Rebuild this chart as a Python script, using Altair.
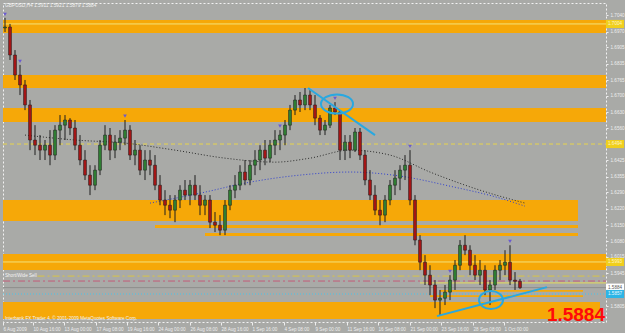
import json
import altair as alt
import pandas as pd

# ---------------- data ----------------
opens = [1.6987,1.6991,1.6872,1.6787,1.6745,1.6660,1.6511,1.6489,1.6468,1.6489,
         1.6447,1.6553,1.6574,1.6596,1.6562,1.6489,1.6426,1.6362,1.6319,1.6383,
         1.6489,1.6532,1.6468,1.6502,1.6519,1.6553,1.6447,1.6468,1.6383,1.6426,
         1.6404,1.6319,1.6256,1.6234,1.6213,1.6256,1.6298,1.6277,1.6319,1.6277,
         1.6234,1.6256,1.6162,1.6149,1.6128,1.6234,1.6298,1.6319,1.6375,1.6341,
         1.6404,1.6426,1.6468,1.6434,1.6489,1.6511,1.6532,1.6574,1.6638,1.6681,
         1.6660,1.6702,1.6660,1.6604,1.6553,1.6574,1.6647,1.6630,1.6468,1.6502,
         1.6468,1.6545,1.6447,1.6341,1.6277,1.6213,1.6192,1.6256,1.6319,1.6349,
         1.6383,1.6404,1.6256,1.6086,1.5992,1.5937,1.5895,1.5831,1.5839,1.5865,
         1.5916,1.5979,1.6064,1.6043,1.5979,1.5937,1.5958,1.5874,1.5895,1.5958,
         1.5979,1.5992,1.5916,1.5911]
highs = [1.7030,1.7004,1.6893,1.6830,1.6766,1.6681,1.6574,1.6532,1.6511,1.6553,
         1.6574,1.6617,1.6617,1.6604,1.6596,1.6532,1.6468,1.6404,1.6404,1.6511,
         1.6574,1.6562,1.6532,1.6553,1.6596,1.6574,1.6511,1.6489,1.6468,1.6468,
         1.6447,1.6362,1.6298,1.6277,1.6277,1.6319,1.6341,1.6341,1.6362,1.6319,
         1.6277,1.6277,1.6205,1.6192,1.6256,1.6319,1.6362,1.6404,1.6426,1.6426,
         1.6468,1.6489,1.6511,1.6511,1.6553,1.6553,1.6596,1.6660,1.6702,1.6715,
         1.6732,1.6723,1.6702,1.6617,1.6596,1.6660,1.6672,1.6638,1.6532,1.6532,
         1.6562,1.6562,1.6468,1.6383,1.6319,1.6256,1.6277,1.6341,1.6383,1.6404,
         1.6447,1.6468,1.6277,1.6107,1.6022,1.5979,1.5916,1.5874,1.5895,1.5937,
         1.6001,1.6086,1.6107,1.6064,1.6022,1.6001,1.5979,1.5916,1.5979,1.6001,
         1.6043,1.6064,1.5950,1.5921]
lows = [1.6970,1.6851,1.6766,1.6702,1.6638,1.6468,1.6447,1.6426,1.6426,1.6404,
        1.6426,1.6489,1.6511,1.6532,1.6468,1.6404,1.6341,1.6277,1.6298,1.6362,
        1.6468,1.6426,1.6434,1.6468,1.6489,1.6426,1.6404,1.6362,1.6341,1.6362,
        1.6298,1.6234,1.6192,1.6179,1.6162,1.6222,1.6256,1.6234,1.6256,1.6192,
        1.6192,1.6137,1.6120,1.6107,1.6107,1.6213,1.6264,1.6298,1.6319,1.6319,
        1.6362,1.6383,1.6404,1.6417,1.6447,1.6468,1.6489,1.6553,1.6617,1.6630,
        1.6638,1.6638,1.6574,1.6532,1.6532,1.6562,1.6617,1.6426,1.6426,1.6434,
        1.6460,1.6426,1.6319,1.6256,1.6192,1.6149,1.6162,1.6234,1.6277,1.6298,
        1.6341,1.6234,1.6064,1.5958,1.5895,1.5852,1.5797,1.5767,1.5810,1.5831,
        1.5874,1.5958,1.6022,1.5937,1.5916,1.5895,1.5852,1.5810,1.5874,1.5916,
        1.5937,1.5895,1.5874,1.5879]
closes = [1.6991,1.6872,1.6787,1.6745,1.6660,1.6511,1.6489,1.6468,1.6489,1.6447,
          1.6553,1.6574,1.6596,1.6562,1.6489,1.6426,1.6362,1.6319,1.6383,1.6489,
          1.6532,1.6468,1.6502,1.6519,1.6553,1.6447,1.6468,1.6383,1.6426,1.6404,
          1.6319,1.6256,1.6234,1.6213,1.6256,1.6298,1.6277,1.6319,1.6277,1.6234,
          1.6256,1.6162,1.6149,1.6128,1.6234,1.6298,1.6319,1.6375,1.6341,1.6404,
          1.6426,1.6468,1.6434,1.6489,1.6511,1.6532,1.6574,1.6638,1.6681,1.6660,
          1.6702,1.6660,1.6604,1.6553,1.6574,1.6647,1.6630,1.6468,1.6502,1.6468,
          1.6545,1.6447,1.6341,1.6277,1.6213,1.6192,1.6256,1.6319,1.6349,1.6383,
          1.6404,1.6256,1.6086,1.5992,1.5937,1.5895,1.5831,1.5839,1.5865,1.5916,
          1.5979,1.6064,1.6043,1.5979,1.5937,1.5958,1.5874,1.5895,1.5958,1.5979,
          1.5992,1.5916,1.5911,1.5884]

x_tick_pos = [-0.4, 5.6, 11.8, 18.2, 24.4, 30.6, 37.0, 43.2, 49.4, 55.8,
              62.0, 68.4, 74.6, 81.0, 87.2, 93.6, 99.8]
x_tick_labels = ["6 Aug 2009", "10 Aug 16:00", "13 Aug 00:00", "17 Aug 08:00",
                 "19 Aug 16:00", "24 Aug 00:00", "26 Aug 08:00", "28 Aug 16:00",
                 "1 Sep 16:00", "4 Sep 08:00", "9 Sep 00:00", "11 Sep 16:00",
                 "16 Sep 08:00", "21 Sep 00:00", "23 Sep 16:00", "28 Sep 08:00",
                 "1 Oct 00:00"]
y_tick_vals = [1.7040, 1.6970, 1.6905, 1.6835, 1.6765, 1.6700, 1.6630, 1.6560,
               1.6425, 1.6355, 1.6290, 1.6220, 1.6150, 1.6080, 1.6015,
               1.5945, 1.5805]

# orange supply / demand zones
zone_x0 = [-0.4, -0.4, -0.4, -0.4, 30, 40, -0.4, -0.4, 85, 87]
zone_x1 = [120.2, 120.2, 120.2, 114.6, 114.6, 114.6, 120.2, 119.0, 115.6, 115.6]
zone_top = [1.7021, 1.6787, 1.6647, 1.6256, 1.6150, 1.6116, 1.6027, 1.5823, 1.5852, 1.5874]
zone_bot = [1.6966, 1.6732, 1.6587, 1.6167, 1.6137, 1.6103, 1.5959, 1.5751, 1.5844, 1.5866]

# horizontal levels
lvl_solid_yellow = [1.7004, 1.5993]
lvl_dash_yellow = [1.6494]
lvl_gold_dashdot = [1.5933]
lvl_red_dashdot = [1.5912]
lvl_bid = [1.5884]
lvl_cyan_dot = [1.5857]
lvl_fib_yellow = [1.5904]

# moving averages
ma_slow_i = [4, 14, 24, 34, 44, 54, 61, 69, 77, 85, 95, 104]
ma_slow_p = [1.6532, 1.6511, 1.6498, 1.6468, 1.6434, 1.6417, 1.6434, 1.6468,
             1.6447, 1.6375, 1.6298, 1.6243]
ma_fast_i = [29, 39, 49, 59, 69, 79, 89, 99, 104]
ma_fast_p = [1.6243, 1.6285, 1.6332, 1.6362, 1.6375, 1.6358, 1.6315, 1.6264, 1.6230]

# trend lines and ellipses
tl_id = ["a", "a", "b", "b"]
tl_i = [60.6, 74.0, 86.4, 108.4]
tl_p = [1.6732, 1.6532, 1.5763, 1.5886]
ell1_i, ell1_p = [66.4], [1.6664]
ell2_i, ell2_p = [97.2], [1.5831]

# fractal markers
frac_i = [0, 3, 24, 55, 66, 81, 89, 101]
frac_p = [1.7045, 1.6845, 1.6612, 1.6570, 1.6688, 1.6484, 1.5953, 1.6080]

# price-axis highlight boxes
hl_p = [1.7004, 1.6494, 1.5993, 1.5884, 1.5857]
hl_text = ["1.7004", "1.6494", "1.5993", "1.5884", "1.5857"]
hl_fill = ["#f0cf1c", "#f0cf1c", "#f0cf1c", "#ffffff", "#2cb5e6"]
hl_color = ["#fff6c8", "#fff6c8", "#fff6c8", "#555555", "#e8f8ff"]

title_text = "GBPUSD,H4  1.5911 1.5921 1.5879 1.5884"
copyright_text = "Interbank FX Trader 4, \u00a9 2001-2009 MetaQuotes Software Corp."
level_label = "Short/Wide Sell"
big_price = "1.5884"

# ---------------- chart ----------------
W, H = 603, 319
XDOM = [-0.4, 120.2]
YDOM = [1.5738, 1.7093]
BG = "#a9aaa7"
LBL = "#eeeeee"
FONT = "Liberation Sans"

label_expr = f"{json.dumps(x_tick_labels)}[indexof({json.dumps(x_tick_pos)}, datum.value)]"
x_axis = alt.Axis(orient="bottom", values=x_tick_pos, labelExpr=label_expr, title=None,
                  grid=False, domain=False, labelAlign="left", labelFontSize=4.6,
                  labelFont=FONT, labelColor=LBL, tickColor=LBL, tickSize=3,
                  labelPadding=1, labelOverlap=False, labelFlush=False, labelBound=False)
y_axis = alt.Axis(orient="right", values=y_tick_vals, format=".4f", title=None,
                  grid=False, domain=False, labelFontSize=4.6, labelFont=FONT,
                  labelColor=LBL, tickColor=LBL, tickSize=2, labelPadding=2,
                  labelOverlap=False, labelFlush=False, labelBound=False)
xs = alt.Scale(domain=XDOM, nice=False, zero=False, padding=0)
ys = alt.Scale(domain=YDOM, nice=False, zero=False, padding=0)


def X(f):
    return alt.X(f, type="quantitative", scale=xs, axis=x_axis)


def Y(f):
    return alt.Y(f, type="quantitative", scale=ys, axis=y_axis)


zones = pd.DataFrame({"x0": zone_x0, "x1": zone_x1, "top": zone_top, "bot": zone_bot})
zone_layer = alt.Chart(zones).mark_rect(color="#f6a808", opacity=1).encode(
    x=X("x0"), x2="x1", y=Y("top"), y2="bot")


def hline(prices, color, dash=None, width=1, x0=-0.4):
    df = pd.DataFrame({"p": prices, "a": [x0] * len(prices), "b": [XDOM[1]] * len(prices)})
    kw = dict(color=color, strokeWidth=width)
    if dash:
        kw["strokeDash"] = dash
    return alt.Chart(df).mark_rule(**kw).encode(x=X("a"), x2="b", y=Y("p"))


levels = [
    hline(lvl_solid_yellow, "#f3e27a", width=1),
    hline(lvl_dash_yellow, "#e8d44d", dash=[4, 3]),
    hline(lvl_gold_dashdot, "#d8c545", dash=[7, 3, 2, 3], x0=6.5),
    hline(lvl_red_dashdot, "#c45c78", dash=[7, 3, 2, 3]),
    hline(lvl_bid, "#8e8e8c"),
    hline(lvl_cyan_dot, "#48c4ea", dash=[1, 2]),
    hline(lvl_fib_yellow, "#e6dc5a", x0=83),
]

ma_slow = alt.Chart(pd.DataFrame({"i": ma_slow_i, "p": ma_slow_p})).mark_line(
    color="#2a2a2a", strokeDash=[1, 2], strokeWidth=1, interpolate="monotone").encode(
    x=X("i"), y=Y("p"))
ma_fast = alt.Chart(pd.DataFrame({"i": ma_fast_i, "p": ma_fast_p})).mark_line(
    color="#2f3fd0", strokeDash=[1, 2], strokeWidth=1, interpolate="monotone").encode(
    x=X("i"), y=Y("p"))

bars = pd.DataFrame({"i": list(range(len(closes))), "o": opens, "h": highs,
                     "l": lows, "c": closes})
bars["dir"] = ["up" if c >= o else "down" for o, c in zip(opens, closes)]
wicks = alt.Chart(bars).mark_rule(color="#1e1e1e", strokeWidth=1).encode(
    x=X("i"), y=Y("l"), y2="h")
bodies = alt.Chart(bars).mark_bar(size=3, stroke="#1e1e1e", strokeWidth=0.5).encode(
    x=X("i"), y=Y("o"), y2="c",
    color=alt.Color("dir:N", scale=alt.Scale(domain=["up", "down"],
                                             range=["#2e7d32", "#a31515"]), legend=None))

fractals = alt.Chart(pd.DataFrame({"i": frac_i, "p": frac_p})).mark_point(
    shape="triangle-down", size=14, filled=True, color="#6a5ad0", opacity=1).encode(
    x=X("i"), y=Y("p"))

trend = alt.Chart(pd.DataFrame({"id": tl_id, "i": tl_i, "p": tl_p})).mark_line(
    color="#29a8e0", strokeWidth=2).encode(x=X("i"), y=Y("p"), detail="id:N")

ell1 = alt.Chart(pd.DataFrame({"i": ell1_i, "p": ell1_p})).mark_point(
    shape="M-1,0A1,0.6,0,1,0,1,0A1,0.6,0,1,0,-1,0", size=1024, filled=False,
    color="#29a8e0", strokeWidth=2, opacity=1).encode(x=X("i"), y=Y("p"))
ell2 = alt.Chart(pd.DataFrame({"i": ell2_i, "p": ell2_p})).mark_point(
    shape="M-1,0A1,0.75,0,1,0,1,0A1,0.75,0,1,0,-1,0", size=576, filled=False,
    color="#29a8e0", strokeWidth=2, opacity=1).encode(x=X("i"), y=Y("p"))

hl = pd.DataFrame({"p": hl_p, "t": hl_text, "f": hl_fill, "c": hl_color})
hl_box = alt.Chart(hl).mark_point(
    shape="M-1,-0.45L1,-0.45L1,0.45L-1,0.45Z", size=324, filled=True, opacity=1,
    strokeWidth=0).encode(x=alt.value(612), y=Y("p"),
                          fill=alt.Fill("f:N", scale=None))
hl_txt = alt.Chart(hl).mark_text(fontSize=4.6, font=FONT, align="left",
                                 baseline="middle", dx=0).encode(
    x=alt.value(605), y=Y("p"), text="t:N", color=alt.Color("c:N", scale=None))

lvl_txt = alt.Chart(pd.DataFrame({"t": [level_label], "p": lvl_gold_dashdot})).mark_text(
    fontSize=4.6, font=FONT, color="#f4f4f4", align="left", baseline="middle").encode(
    x=alt.value(2), y=Y("p"), text="t:N")

title = alt.Chart(pd.DataFrame({"t": [title_text]})).mark_text(
    fontSize=4.8, font=FONT, color="#f2f2f2", align="left", baseline="middle").encode(
    x=alt.value(2), y=alt.value(3), text="t:N")
copy = alt.Chart(pd.DataFrame({"t": [copyright_text]})).mark_text(
    fontSize=4.6, font=FONT, color="#f2f2f2", align="left", baseline="middle").encode(
    x=alt.value(2), y=alt.value(316), text="t:N")
big = alt.Chart(pd.DataFrame({"t": [big_price]})).mark_text(
    fontSize=19, font=FONT, fontWeight="bold", color="#ff0a0a", align="right",
    baseline="alphabetic").encode(x=alt.value(602), y=alt.value(318), text="t:N")

chart = alt.layer(zone_layer, *levels, ma_slow, ma_fast, wicks, bodies, fractals,
                  trend, ell1, ell2, hl_box, hl_txt, lvl_txt, title, copy, big).properties(
    width=W, height=H, autosize="none",
    padding={"left": 3, "top": 3, "right": 19, "bottom": 11},
    background=BG,
).configure_view(stroke="#f2f2f2", strokeDash=[2, 2], strokeWidth=1, fill=BG)

chart.save("out.html", embed_options={"renderer": "svg", "actions": False})
